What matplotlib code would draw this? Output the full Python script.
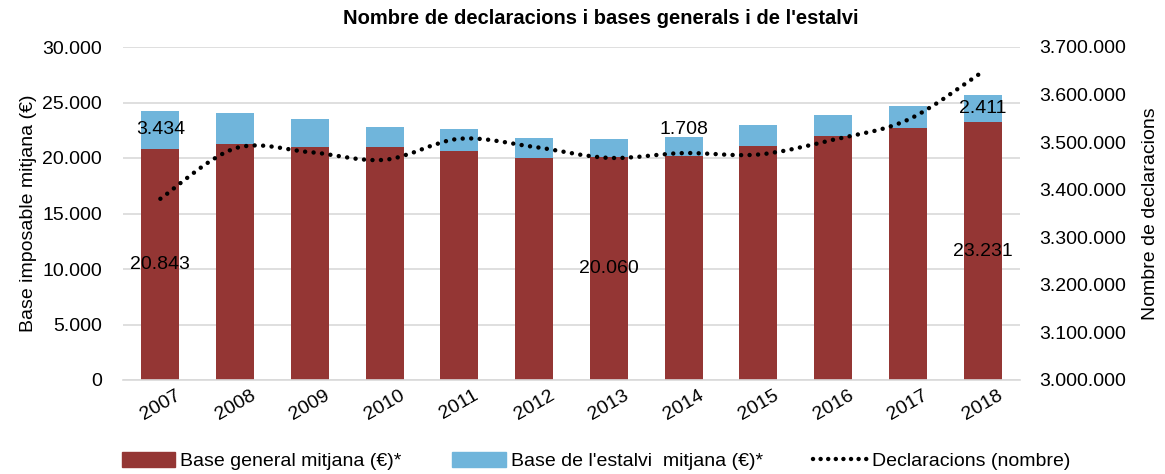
import numpy as np
import matplotlib.pyplot as plt
from matplotlib.path import Path
from matplotlib.patches import PathPatch, Patch
from matplotlib.lines import Line2D
from matplotlib.ticker import FuncFormatter

# ---------------- DATA ---------------- #
years = ['2007', '2008', '2009', '2010', '2011', '2012',
         '2013', '2014', '2015', '2016', '2017', '2018']
base_general = [20843, 21290, 21020, 21020, 20660, 20030,
                20060, 20190, 21100, 21980, 22730, 23231]
base_estalvi = [3434, 2800, 2480, 1740, 1980, 1740,
                1620, 1708, 1870, 1870, 1970, 2411]
declaracions = [3381000, 3487000, 3479000, 3463000, 3507000, 3490000,
                3467000, 3477000, 3474000, 3505000, 3547000, 3648000]

general_labels = [0, 6, 11]
estalvi_labels = [0, 7, 11]

# ---------------- STYLE ---------------- #
plt.rcParams['font.family'] = ['Liberation Sans', 'DejaVu Sans']
red = '#943634'
blue = '#70B5DB'
grid_c = '#D9D9D9'
fs = 14


def fmt_dots(v, pos=None):
    return f'{int(round(v)):,}'.replace(',', '.')


fig = plt.figure(figsize=(11.65, 4.74), dpi=100)
ax = fig.add_axes([123 / 1165, 1 - 380 / 474, (1020 - 123) / 1165, (380 - 47) / 474])
ax2 = ax.twinx()

x = np.arange(len(years))
ax.bar(x, base_general, width=0.51, color=red, zorder=2)
ax.bar(x, base_estalvi, width=0.51, bottom=base_general, color=blue, zorder=2)

# data labels
for i in general_labels:
    ax.text(x[i], base_general[i] / 2, fmt_dots(base_general[i]),
            ha='center', va='center', fontsize=fs, zorder=5)
for i in estalvi_labels:
    yy = base_general[i] + base_estalvi[i] / 2
    if i == 7:
        yy = 22600
    ax.text(x[i], yy, fmt_dots(base_estalvi[i]),
            ha='center', va='center', fontsize=fs, zorder=5)

ax.set_ylim(0, 30000)
ax.set_yticks(np.arange(0, 30001, 5000))
ax.yaxis.set_major_formatter(FuncFormatter(fmt_dots))
ax.set_xlim(-0.5, len(years) - 0.5)
ax.set_xticks(x)
ax.set_xticklabels(years, rotation=30, ha='center', fontsize=fs)
ax.tick_params(axis='x', length=0, pad=5)
ax.tick_params(axis='y', length=0, labelsize=fs, pad=15)
ax.grid(axis='y', color=grid_c, linewidth=1.2, zorder=0)
ax.set_axisbelow(True)
for s in ['top', 'left', 'right']:
    ax.spines[s].set_visible(False)
ax.spines['bottom'].set_color(grid_c)
ax.spines['bottom'].set_linewidth(1.2)
ax.set_ylabel('Base imposable mitjana (€)', fontsize=fs, labelpad=4)

# smoothed dotted line (Catmull-Rom drawn as Bezier curves)
pts = np.column_stack([x, declaracions]).astype(float)
ext = np.vstack([pts[0], pts, pts[-1]])
verts = [pts[0]]
codes = [Path.MOVETO]
for i in range(len(pts) - 1):
    p0, p1, p2, p3 = ext[i], ext[i + 1], ext[i + 2], ext[i + 3]
    verts += [p1 + (p2 - p0) / 6, p2 - (p3 - p1) / 6, p2]
    codes += [Path.CURVE4] * 3
line = PathPatch(Path(verts, codes), fill=False, edgecolor='black',
                 linewidth=3.2, linestyle=(0, (0.01, 1.9)), capstyle='round', zorder=4)
ax2.add_patch(line)

ax2.set_ylim(3000000, 3700000)
ax2.set_yticks(np.arange(3000000, 3700001, 100000))
ax2.yaxis.set_major_formatter(FuncFormatter(fmt_dots))
ax2.tick_params(axis='y', length=0, labelsize=fs, pad=13.5)
for s in ['top', 'left', 'right', 'bottom']:
    ax2.spines[s].set_visible(False)
ax2.set_ylabel('Nombre de declaracions', fontsize=fs, labelpad=12)

fig.text(601 / 1165, 1 - 18 / 474, "Nombre de declaracions i bases generals i de l'estalvi",
         ha='center', va='center', fontsize=14.5, fontweight='bold')

handles = [Patch(color=red), Patch(color=blue),
           Line2D([0], [0], color='black', linewidth=3.2, linestyle=(0, (0.01, 1.7)),
                  dash_capstyle='round')]
labels = ['Base general mitjana (€)*', "Base de l'estalvi  mitjana (€)*", 'Declaracions (nombre)']
fig.legend(handles, labels, loc='center', bbox_to_anchor=(596 / 1165, 1 - 461 / 474), ncol=3,
           frameon=False, fontsize=fs, handlelength=2.75, handleheight=0.8,
           handletextpad=0.26, columnspacing=2.6)

fig.savefig('out.png', dpi=100)
